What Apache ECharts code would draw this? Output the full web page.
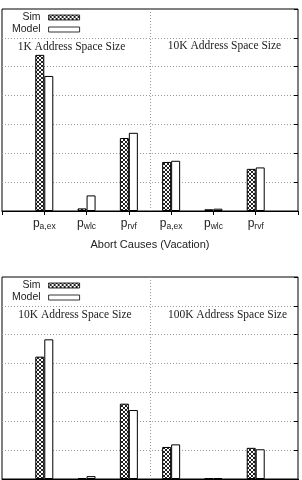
<!DOCTYPE html>
<html>
<head>
<meta charset="utf-8">
<script src="https://cdn.jsdelivr.net/npm/echarts@6/dist/echarts.min.js"></script>
<style>
  html, body { margin: 0; padding: 0; background: #fff; }
  #chart { width: 302px; height: 480px; }
</style>
</head>
<body>
<div id="chart"></div>
<script>
// categories (empty slots at both ends so the six causes sit on 1..6)
var causes = ['', 'a,ex', 'wlc', 'rvf', 'a,ex', 'wlc', 'rvf', ''];
// values in gridline units (7 gridlines tall)
var simTop = ['-', 5.41, 0.09, 2.53, 1.70, 0.06, 1.46, '-'];
var modelTop = ['-', 4.68, 0.54, 2.71, 1.74, 0.08, 1.51, '-'];
var simBottom = ['-', 4.24, 0.03, 2.61, 1.11, 0.02, 1.08, '-'];
var modelBottom = ['-', 4.84, 0.10, 2.39, 1.20, 0.03, 1.03, '-'];
var spaceTop = ['1K Address Space Size', '10K Address Space Size'];
var spaceBottom = ['10K Address Space Size', '100K Address Space Size'];
var xTitle = 'Abort Causes (Vacation)';

// crosshatch pattern for the Sim bars
function hatch() {
  var c = document.createElement('canvas');
  c.width = 4; c.height = 4;
  var ctx = c.getContext('2d');
  ctx.fillStyle = '#fff';
  ctx.fillRect(0, 0, 4, 4);
  ctx.strokeStyle = '#222';
  ctx.lineWidth = 1;
  ctx.beginPath();
  ctx.moveTo(0, 0); ctx.lineTo(4, 4);
  ctx.moveTo(4, 0); ctx.lineTo(0, 4);
  ctx.stroke();
  return c;
}
var simFill = { image: hatch(), repeat: 'repeat' };

var dotted = { color: '#999', type: [1, 2], width: 1 };
var sans = 'Liberation Sans, Arial, sans-serif';
var serif = 'Liberation Serif, Times New Roman, serif';

function xAxes(g, name) {
  return [
    {
      type: 'category', gridIndex: g, data: causes, boundaryGap: false, position: 'bottom',
      axisLine: { lineStyle: { color: '#000' } },
      axisTick: { show: false },
      splitLine: { show: false },
      axisLabel: {
        interval: 0, margin: 5,
        formatter: function (v) { return v ? '{p|p}{s|' + v + '}' : ''; },
        rich: {
          p: { fontSize: 12, fontFamily: sans, color: '#222' },
          s: { fontSize: 8.5, fontFamily: sans, color: '#222', padding: [6, 0, 0, 0] }
        }
      },
      name: name, nameLocation: 'middle', nameGap: 28,
      nameTextStyle: { fontSize: 11, fontFamily: sans, color: '#222' }
    },
    {
      type: 'category', gridIndex: g, data: causes, boundaryGap: false, position: 'top',
      axisLine: { show: false },
      axisTick: { show: true, inside: true, length: 4, lineStyle: { color: '#000' } },
      axisLabel: { show: false },
      splitLine: { show: false }
    },
    {
      type: 'value', gridIndex: g, min: 0, max: 7, interval: 3.5, position: 'top',
      axisLine: { show: false }, axisTick: { show: false }, axisLabel: { show: false },
      splitLine: { show: true, showMinLine: false, showMaxLine: false, lineStyle: dotted }
    }
  ];
}

function yAxes(g) {
  return [
    {
      type: 'value', gridIndex: g, min: 0, max: 7, interval: 1,
      axisLine: { show: false }, axisTick: { show: false }, axisLabel: { show: false },
      splitLine: { show: true, showMinLine: false, showMaxLine: false, lineStyle: dotted }
    },
    {
      type: 'value', gridIndex: g, min: 0, max: 7, interval: 1, position: 'right',
      axisLine: { show: false }, axisLabel: { show: false },
      axisTick: { show: true, inside: true, length: 4, lineStyle: { color: '#000' } },
      splitLine: { show: false }
    }
  ];
}

function bar(name, data, xi, yi, fill) {
  return {
    name: name, type: 'bar', xAxisIndex: xi, yAxisIndex: yi, data: data,
    barWidth: 9, barGap: '0%',
    itemStyle: { color: fill, borderColor: '#000', borderWidth: 1 },
    emphasis: { disabled: true }
  };
}

function legend(top) {
  return {
    data: ['Sim', 'Model'], orient: 'vertical', align: 'right',
    left: 7, top: top, itemWidth: 31, itemHeight: 5, itemGap: 1,
    icon: 'rect', selectedMode: false,
    itemStyle: { borderWidth: 0.8 },
    textStyle: { fontSize: 10.5, fontFamily: sans, color: '#222', padding: [0, 3, 0, 0] }
  };
}

function spaceLabel(text, x, y) {
  return {
    type: 'text', x: x, y: y,
    style: { text: text, fill: '#222', font: '11.5px ' + serif, align: 'center', verticalAlign: 'middle' }
  };
}

var gridBase = { left: 2, width: 296, height: 202, show: true, borderColor: '#000', borderWidth: 1,
  backgroundColor: 'transparent', containLabel: false, outerBoundsMode: 'none' };

var chart = echarts.init(document.getElementById('chart'));
chart.setOption({
  animation: false,
  grid: [
    Object.assign({ top: 9 }, gridBase),
    Object.assign({ top: 277 }, gridBase)
  ],
  legend: [legend(7), legend(275)],
  xAxis: xAxes(0, xTitle).concat(xAxes(1, '')),
  yAxis: yAxes(0).concat(yAxes(1)),
  series: [
    bar('Sim', simTop, 0, 0, simFill),
    bar('Model', modelTop, 0, 0, '#fff'),
    bar('Sim', simBottom, 3, 2, simFill),
    bar('Model', modelBottom, 3, 2, '#fff')
  ],
  graphic: [
    spaceLabel(spaceTop[0], 71.5, 47),
    spaceLabel(spaceTop[1], 224.5, 46),
    spaceLabel(spaceBottom[0], 75, 315),
    spaceLabel(spaceBottom[1], 227.5, 315)
  ]
});
</script>
</body>
</html>
